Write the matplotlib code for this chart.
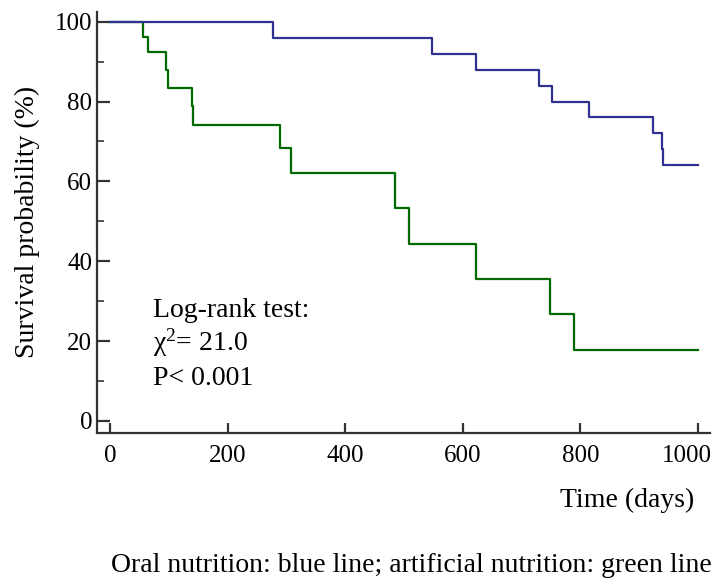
import matplotlib
matplotlib.use("Agg")
import matplotlib.pyplot as plt
from matplotlib.ticker import MultipleLocator
from matplotlib.transforms import offset_copy

# --- Kaplan-Meier step data ---
oral_days = [0, 278, 547, 623, 730, 751, 815, 924, 939, 941, 1000]
oral_surv = [100, 96, 92, 88, 84, 80, 76, 72, 68, 64, 64]

artif_days = [0, 57, 65, 96, 98, 139, 141, 290, 308, 484, 508, 623, 749, 789, 1000]
artif_surv = [100, 96.2, 92.3, 88, 83.5, 79, 74, 68.3, 62, 53.3, 44.4, 35.5, 26.7, 17.8, 17.8]

x_ticks = [0, 200, 400, 600, 800, 1000]
y_ticks = [0, 20, 40, 60, 80, 100]

stats_lines = ["Log-rank test:", r"$\chi^{2}$= 21.0", "P< 0.001"]

plt.rcParams["font.family"] = ["Liberation Serif", "DejaVu Serif"]
plt.rcParams["mathtext.fontset"] = "custom"
plt.rcParams["mathtext.rm"] = "Liberation Serif"
plt.rcParams["mathtext.it"] = "Liberation Serif"
plt.rcParams["mathtext.default"] = "rm"

FS = 20      # labels / annotation
TICK_FS = 18

W, H = 723, 581
fig = plt.figure(figsize=(W / 100, H / 100), dpi=100)
ax = fig.add_axes([97 / W, 1 - 432.5 / H, (710 - 97) / W, (432.5 - 11.7) / H])

ax.step(artif_days, artif_surv, where="post", color="#006a00", lw=1.6)
ax.step(oral_days, oral_surv, where="post", color="#2e3192", lw=1.6)

ax.set_xlim(-22, 1020.5)
ax.set_ylim(-2.9, 102.5)

for s in ["top", "right"]:
    ax.spines[s].set_visible(False)
for s in ["left", "bottom"]:
    ax.spines[s].set_linewidth(1.6)
    ax.spines[s].set_color("#333333")

ax.set_xticks(x_ticks)
ax.set_yticks(y_ticks)
ax.yaxis.set_minor_locator(MultipleLocator(10))
ax.tick_params(axis="both", which="major", direction="in", labelsize=TICK_FS,
               width=1.6, color="#333333")
ax.tick_params(axis="y", which="major", length=9, pad=3.5)
ax.tick_params(axis="x", which="major", length=7.5, pad=9)
ax.tick_params(axis="y", which="minor", direction="in", length=5, width=1.2,
               color="#333333")
# last x label nudged left so it stays inside the figure
last = ax.xaxis.get_major_ticks()[-1].label1
last.set_transform(offset_copy(last.get_transform(), fig=fig, x=-11, units="dots"))

ax.set_ylabel("Survival probability (%)", fontsize=FS)
ax.yaxis.label.set_va("center")
ax.yaxis.set_label_coords(-0.114, 0.5)

for i, line in enumerate(stats_lines):
    ax.text(73, 26.0 - 8.5 * i, line, fontsize=FS, ha="left", va="baseline")

fig.text(627.5 / W, 1 - 500 / H, "Time (days)", fontsize=FS, ha="center", va="center")
fig.text(411 / W, 1 - 565 / H, "Oral nutrition: blue line; artificial nutrition: green line",
         fontsize=FS, ha="center", va="center")

fig.savefig("out.png", dpi=100)
